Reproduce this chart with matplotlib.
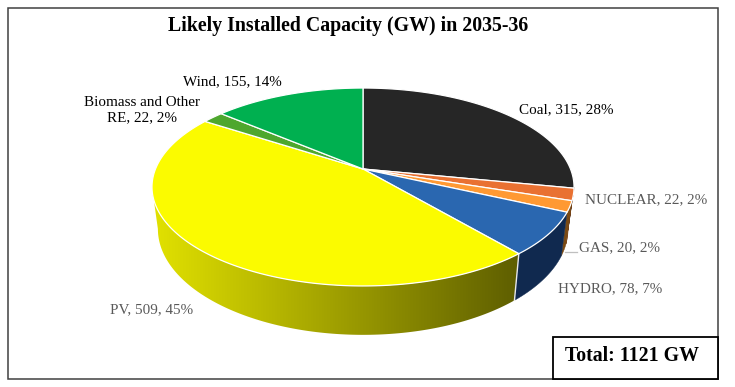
import matplotlib
matplotlib.use("Agg")
import matplotlib.pyplot as plt
import numpy as np
from matplotlib.colors import LinearSegmentedColormap
from matplotlib.patches import Polygon, Rectangle

plt.rcParams['font.family'] = ['Liberation Serif', 'DejaVu Serif']

categories = ['Coal', 'NUCLEAR', 'GAS', 'HYDRO', 'PV', 'Biomass and Other\nRE', 'Wind']
capacity = [315, 22, 20, 78, 509, 22, 155]
percent = [28, 2, 2, 7, 45, 2, 14]
title = 'Likely Installed Capacity (GW) in 2035-36'
total_text = 'Total: 1121 GW'

top_colors = ['#262626', '#E97132', '#FF9933', '#2A67B0', '#FBFB00', '#4EA72E', '#00B050']
wall_colors = ['#151515', '#7A3A12', '#7A4A14', '#10294F', None, '#2A5A18', '#006030']
label_colors = ['black', '#595959', '#595959', '#595959', '#595959', 'black', 'black']
label_pos = [(566, 110), (646, 200), (620, 248), (610, 289), (152, 310), (142, 110), (232, 82)]

# pie geometry in pixels, k gives the perspective of the tilted disc
cx, cy = 363, 169
rx, ry, k = 207.5, 95.7, 0.1818
cy_low = 209.7
shrink_x, stretch_y = 0.972, 1.07


def project(theta, low=False):
    u, v = np.sin(theta), np.cos(theta)
    w = 1 + k * v
    x, y = rx * u / w, ry * v / w
    if low:
        return cx + x * shrink_x, cy_low - y * stretch_y
    return cx + x, cy - y


def arc(t0, t1, low=False):
    t = np.linspace(t0, t1, max(int(abs(t1 - t0) * 60), 2))
    return np.column_stack(project(t, low))


fig = plt.figure(figsize=(7.35, 3.87), dpi=100)
ax = fig.add_axes([0, 0, 1, 1])

edges = np.cumsum([0] + capacity) / sum(capacity) * 2 * np.pi
left_limit = np.pi + np.arcsin(np.sqrt(1 - k ** 2))  # silhouette on the left side

# side walls first
for i in range(len(capacity)):
    t0, t1 = edges[i], min(edges[i + 1], left_limit)
    if t1 <= t0 or t1 < np.pi / 2 + 0.1:
        continue
    t0 = max(t0, np.pi / 2 + np.arcsin(k))
    wall = np.vstack([arc(t0, t1), arc(t1, t0, low=True)])
    if wall_colors[i] is None:
        cmap = LinearSegmentedColormap.from_list('wall', ['#E2E200', '#5E5E00'])
        xmin, xmax = wall[:, 0].min(), wall[:, 0].max()
        img = ax.imshow(np.linspace(0, 1, 256).reshape(1, -1), cmap=cmap, aspect='auto',
                        extent=(xmin, xmax, wall[:, 1].max(), wall[:, 1].min()),
                        interpolation='bilinear', zorder=1)
        clip = Polygon(wall, closed=True, transform=ax.transData, fc='none', ec='none')
        ax.add_patch(clip)
        img.set_clip_path(clip)
    else:
        ax.add_patch(Polygon(wall, closed=True, fc=wall_colors[i], ec=wall_colors[i], lw=0.3, zorder=2))

# white seam between hydro and PV walls
seam = edges[4]
ax.plot([project(seam)[0], project(seam, True)[0]], [project(seam)[1], project(seam, True)[1]],
        color='#E8E8E8', lw=1.0, zorder=3)

# top surface
for i in range(len(capacity)):
    pts = np.vstack([[cx, cy], arc(edges[i], edges[i + 1])])
    ax.add_patch(Polygon(pts, closed=True, fc=top_colors[i], ec='white', lw=0.9, joinstyle='round', zorder=4))

for name, val, pct, col, pos in zip(categories, capacity, percent, label_colors, label_pos):
    ax.text(pos[0], pos[1], f'{name}, {val}, {pct}%', color=col, fontsize=10.9, ha='center',
            va='center', linespacing=1.2, zorder=6)

ax.plot([565, 577], [252, 252], color='#BFBFBF', lw=0.9, zorder=5)

ax.text(348.5, 25.5, title, fontsize=14.3, fontweight='bold', ha='center', va='center', color='black')

# outer frame and total box
ax.add_patch(Rectangle((8, 8), 710, 371, fc='none', ec='#404040', lw=1.1, zorder=7))
ax.add_patch(Rectangle((553, 337), 165, 42, fc='white', ec='black', lw=1.3, zorder=8))
ax.text(632.5, 356, total_text, fontsize=14.3, fontweight='bold', ha='center', va='center', zorder=9)

ax.set_xlim(0, 735)
ax.set_ylim(387, 0)
ax.axis('off')
fig.savefig('out.png', dpi=100, facecolor='white')
